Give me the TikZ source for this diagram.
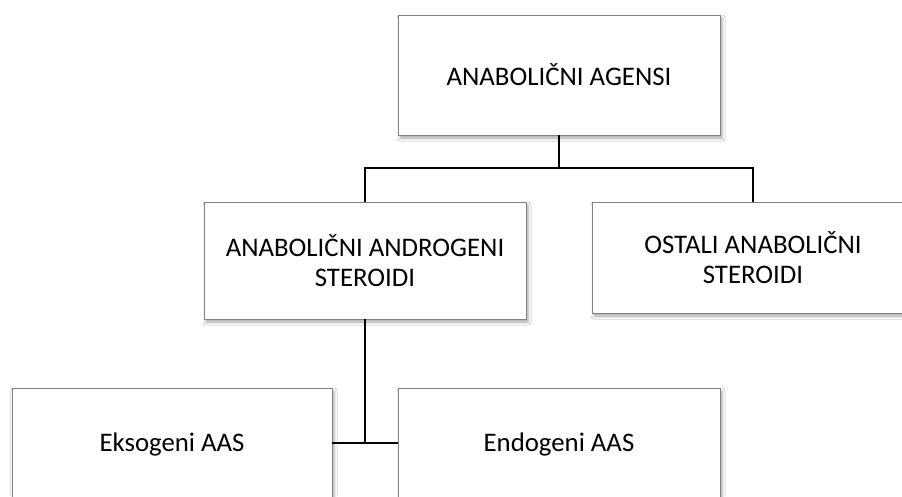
\documentclass[tikz,border=0pt]{standalone}
\usepackage{fontspec}
\setmainfont{Carlito}
\usetikzlibrary{shadows.blur}
\tikzset{
  box/.style={draw=black!50, line width=0.9pt, fill=white, align=center,
    font=\fontsize{26.8}{30}\selectfont,
    blur shadow={shadow xshift=2pt, shadow yshift=-3pt, shadow blur radius=3pt, shadow opacity=35},
    inner sep=0pt},
  conn/.style={line width=1.5pt, black}
}
\begin{document}
\begin{tikzpicture}[x=1pt, y=-1pt]
\fill[white] (0,0) rectangle (902,496);
\begin{scope}
\clip (0,0) rectangle (902,496);
\node[box, minimum width=322pt, minimum height=120pt] (top) at (559,75) {ANABOLIČNI AGENSI};
\node[box, minimum width=322pt, minimum height=117pt] (ml) at (365,260.5) {ANABOLIČNI ANDROGENI\\STEROIDI};
\node[box, minimum width=400pt, minimum height=111pt] (mrbox) at (792,257.5) {};
\node[align=center, font=\fontsize{26.8}{30}\selectfont, inner sep=0pt] (mr) at (753,257.5) {OSTALI ANABOLIČNI\\STEROIDI};
\node[box, minimum width=320pt, minimum height=112pt] (bl) at (172,444) {Eksogeni AAS};
\node[box, minimum width=322pt, minimum height=112pt] (br) at (559,444) {Endogeni AAS};
\coordinate (j1) at (559,168);
\coordinate (j2) at (365,443);
\draw[conn] (top.south) -- (j1);
\draw[conn] (j1) -| (mrbox.north -| mr);
\draw[conn] (j1) -| (ml.north);
\draw[conn] (ml.south) -- (j2);
\draw[conn] (bl.east |- j2) -- (br.west |- j2);
\end{scope}
\useasboundingbox (0,0) rectangle (902,496);
\end{tikzpicture}
\end{document}
